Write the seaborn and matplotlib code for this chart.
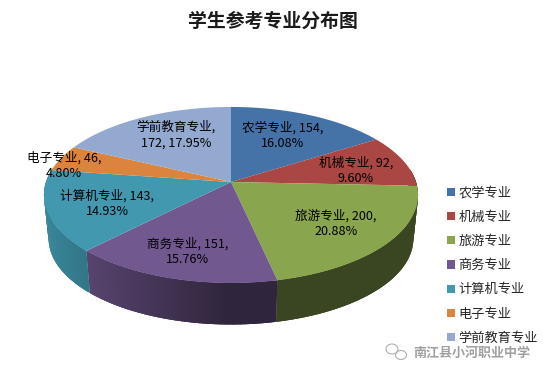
import numpy as np
import matplotlib
matplotlib.use('Agg')
import matplotlib.pyplot as plt
from matplotlib.patches import Patch, Ellipse
import seaborn as sns

majors = ['农学专业', '机械专业', '旅游专业', '商务专业', '计算机专业', '电子专业', '学前教育专业']
counts = [154, 92, 200, 151, 143, 46, 172]
percents = ['16.08%', '9.60%', '20.88%', '15.76%', '14.93%', '4.80%', '17.95%']
hex_colors = ['#4572A7', '#AA4643', '#89A54E', '#71588F', '#4198AF', '#DB843D', '#93A9CF']
title = '学生参考专业分布图'
watermark = '南江县小河职业中学'

sns.set_theme(style='white')
plt.rcParams['font.family'] = ['Noto Sans CJK SC', 'DejaVu Sans']
palette = sns.color_palette(hex_colors)

# pie geometry in pixels, perspective squeezes the back of the disc
cx, cy = 231, 182
k = 0.1477
scale_x, scale_y = 185, 86.1
depth = 44
bottom_scale = 0.975


def project(theta, scale=1.0, dy=0.0):
    u, v = np.sin(theta), np.cos(theta)
    den = 1 + k * v
    return cx + scale * scale_x * u / den, cy - scale * scale_y * v / den + dy


def wall_shade(x):
    # lighter on the left, dark from the middle on
    t = np.clip((x - 44) / 186, 0, 1)
    return 0.88 - 0.46 * t


fig = plt.figure(figsize=(5.48, 3.77), dpi=100)
ax = fig.add_axes([0, 0, 1, 1])
ax.set_xlim(0, 548)
ax.set_ylim(377, 0)
ax.axis('off')

fracs = np.array(counts) / sum(counts)
edges = np.concatenate([[0], np.cumsum(fracs)]) * 2 * np.pi

# side wall, thin strips so the shading can change along the rim
# each strip runs a bit past the next one, that hides the seams
for i, color in enumerate(palette):
    a, b = edges[i], edges[i + 1]
    n = max(2, int((b - a) / 0.012))
    t = np.linspace(a, b, n + 1)
    step = t[1] - t[0]
    for t0 in t[:-1]:
        if np.cos(t0 + step / 2) > 0.15:
            continue
        t1 = min(t0 + 2.5 * step, b)
        x0, y0 = project(t0)
        x1, y1 = project(t1)
        x2, y2 = project(t1, bottom_scale, depth)
        x3, y3 = project(t0, bottom_scale, depth)
        s = wall_shade(x0)
        c = tuple(min(1, v * s) for v in color)
        ax.fill([x0, x1, x2, x3], [y0, y1, y2, y3], color=c, lw=0, zorder=1 + i * 0.01)

# top faces
for i, color in enumerate(palette):
    t = np.linspace(edges[i], edges[i + 1], 120)
    xs, ys = project(t)
    ax.fill(np.r_[cx, xs], np.r_[cy, ys], color=color, lw=0, zorder=2)

# data labels, one anchor per slice
label_pos = [(283, 136), (356, 170.5), (336, 224), (188, 251.5), (107, 203.5), (64, 165.5), (176, 135)]
for i, (x, y) in enumerate(label_pos):
    if majors[i] == '学前教育专业':
        txt = f'{majors[i]},\n{counts[i]}, {percents[i]}'
    else:
        txt = f'{majors[i]}, {counts[i]},\n{percents[i]}'
    ax.text(x, y, txt, ha='center', va='center', fontsize=9.1, color='black',
            linespacing=1.25, zorder=5)

ax.text(273, 21, title, ha='center', va='center', fontsize=13.6, fontweight='bold', color='#1a1a1a')

handles = [Patch(facecolor=c, edgecolor='none', label=m) for c, m in zip(palette, majors)]
ax.legend(handles=handles, loc='upper left', bbox_to_anchor=(447 / 548, 1 - 186.5 / 377), frameon=False,
          fontsize=9.5, handlelength=0.58, handleheight=0.58, handletextpad=0.3,
          labelspacing=0.85, borderpad=0, borderaxespad=0)

# watermark bottom right
ax.text(472, 352.5, watermark, ha='center', va='center', fontsize=9.4, color='#a0a0a0', fontweight='bold', zorder=6)
ax.add_patch(Ellipse((392, 349), 12, 10, fill=False, ec='#b0b0b0', lw=0.8))
ax.add_patch(Ellipse((401, 355), 11, 9, fill=False, ec='#b0b0b0', lw=0.8))

fig.savefig('out.png', dpi=100)
